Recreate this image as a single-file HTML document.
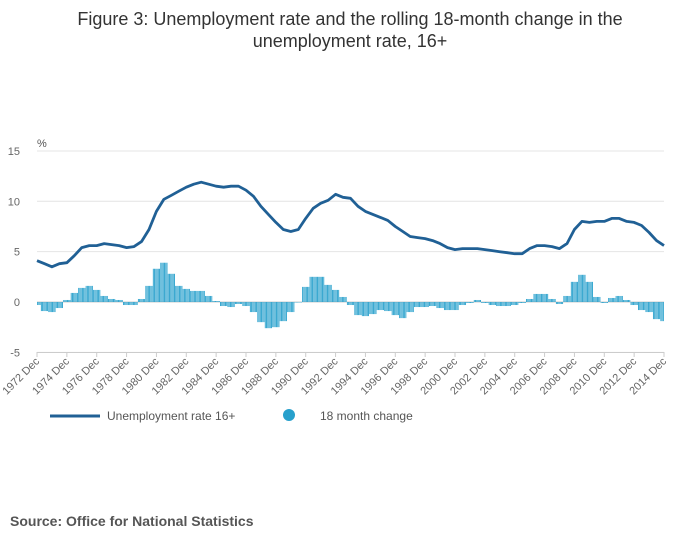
<!DOCTYPE html>
<html><head><meta charset="utf-8"><style>
body{margin:0;background:#fff;font-family:"Liberation Sans",sans-serif}
svg{display:block}
</style></head><body>
<svg width="700" height="549" viewBox="0 0 700 549">
<text x="350" y="25" text-anchor="middle" font-size="18" fill="#333">Figure 3: Unemployment rate and the rolling 18-month change in the</text>
<text x="350" y="47" text-anchor="middle" font-size="18" fill="#333">unemployment rate, 16+</text>
<text x="37" y="147" font-size="11" fill="#555">%</text>
<g id="grid"></g><g id="bars"></g><g id="line"></g><g id="xaxis"></g>
<g>
<line x1="50" y1="416" x2="100" y2="416" stroke="#206095" stroke-width="3"/>
<text x="107" y="420" font-size="12" fill="#555">Unemployment rate 16+</text>
<circle cx="289" cy="415" r="6" fill="#27a0cc"/>
<text x="320" y="420" font-size="12" fill="#555">18 month change</text>
</g>
<text x="10" y="526" font-size="14" font-weight="bold" fill="#555">Source: Office for National Statistics</text>
</svg>
<script>
const yTicks=[15,10,5,0,-5];
const xLabels=["1972 Dec","1974 Dec","1976 Dec","1978 Dec","1980 Dec","1982 Dec","1984 Dec","1986 Dec","1988 Dec","1990 Dec","1992 Dec","1994 Dec","1996 Dec","1998 Dec","2000 Dec","2002 Dec","2004 Dec","2006 Dec","2008 Dec","2010 Dec","2012 Dec","2014 Dec"];
const rate=[4.1,3.8,3.5,3.8,3.9,4.6,5.4,5.6,5.6,5.8,5.7,5.6,5.4,5.5,6.0,7.2,9.0,10.2,10.6,11.0,11.4,11.7,11.9,11.7,11.5,11.4,11.5,11.5,11.1,10.5,9.5,8.7,7.9,7.2,7.0,7.2,8.3,9.3,9.8,10.1,10.7,10.4,10.3,9.5,9.0,8.7,8.4,8.1,7.5,7.0,6.5,6.4,6.3,6.1,5.8,5.4,5.2,5.3,5.3,5.3,5.2,5.1,5.0,4.9,4.8,4.8,5.3,5.6,5.6,5.5,5.3,5.8,7.2,8.0,7.9,8.0,8.0,8.3,8.3,8.0,7.9,7.6,6.9,6.1,5.6];
const change=[-0.3,-0.9,-1.0,-0.6,0.2,0.9,1.4,1.6,1.2,0.6,0.3,0.2,-0.3,-0.3,0.3,1.6,3.3,3.9,2.8,1.6,1.3,1.1,1.1,0.6,0.1,-0.4,-0.5,-0.2,-0.4,-1.0,-2.0,-2.6,-2.5,-1.9,-1.0,0.0,1.5,2.5,2.5,1.7,1.2,0.5,-0.3,-1.3,-1.4,-1.2,-0.8,-0.9,-1.3,-1.6,-1.0,-0.5,-0.5,-0.4,-0.6,-0.8,-0.8,-0.3,-0.1,0.2,-0.1,-0.3,-0.4,-0.4,-0.3,-0.1,0.3,0.8,0.8,0.3,-0.2,0.6,2.0,2.7,2.0,0.5,-0.1,0.4,0.6,0.2,-0.3,-0.8,-1.0,-1.7,-1.9];
const NS="http://www.w3.org/2000/svg";
const X0=37,X1=664;
const yS=v=>302-v*10.07;
const xS=i=>X0+(X1-X0)*i/(rate.length-1);
function mk(tag,attrs,parent){const e=document.createElementNS(NS,tag);for(const k in attrs)e.setAttribute(k,attrs[k]);parent.appendChild(e);return e;}
const grid=document.getElementById('grid');
yTicks.forEach(v=>{
 const l=mk('line',{x1:X0,x2:X1,y1:yS(v),y2:yS(v),stroke:v===0?'#ccc':'#e4e4e4','stroke-width':1},grid);
 
 
 const t=mk('text',{x:20,y:yS(v)+4,'text-anchor':'end','font-size':11,fill:'#666'},grid);
 t.textContent=v;
 
 
});
const bars=document.getElementById('bars');
const step=(X1-X0)/(rate.length-1);
change.forEach((v,i)=>{
 for(let k=0;k<6;k++){
  const cx=xS(i)-step/2+step*(k+0.5)/6;
  if(cx<X0||cx>X1)continue;
  const y0=yS(0),y1=yS(v);
  const r=mk('rect',{x:cx-0.45,y:Math.min(y0,y1),width:0.9,height:Math.max(0.5,Math.abs(y1-y0)),fill:'#27a0cc'},bars);
  
  
 }
});
const line=document.getElementById('line');
const p=mk('path',{d:rate.map((v,i)=>(i?'L':'M')+xS(i).toFixed(1)+','+yS(v).toFixed(1)).join(''),fill:'none',stroke:'#206095','stroke-width':2.8,'stroke-linejoin':'round'},line);


const xa=document.getElementById('xaxis');
const ax=mk('line',{x1:X0,x2:X1,y1:352.5,y2:352.5,stroke:'#ccc'},xa);


xLabels.forEach((s,i)=>{
 const x=X0+(X1-X0)*i/(xLabels.length-1);
 const tk=mk('line',{x1:x,x2:x,y1:352,y2:357,stroke:'#ccc'},xa);
 
 
 const t=mk('text',{x:x+3,y:362,'text-anchor':'end','font-size':11,fill:'#666',transform:`rotate(-45 ${x+3} 362)`},xa);
 t.textContent=s;
 
 
});
</script>
</body></html>
